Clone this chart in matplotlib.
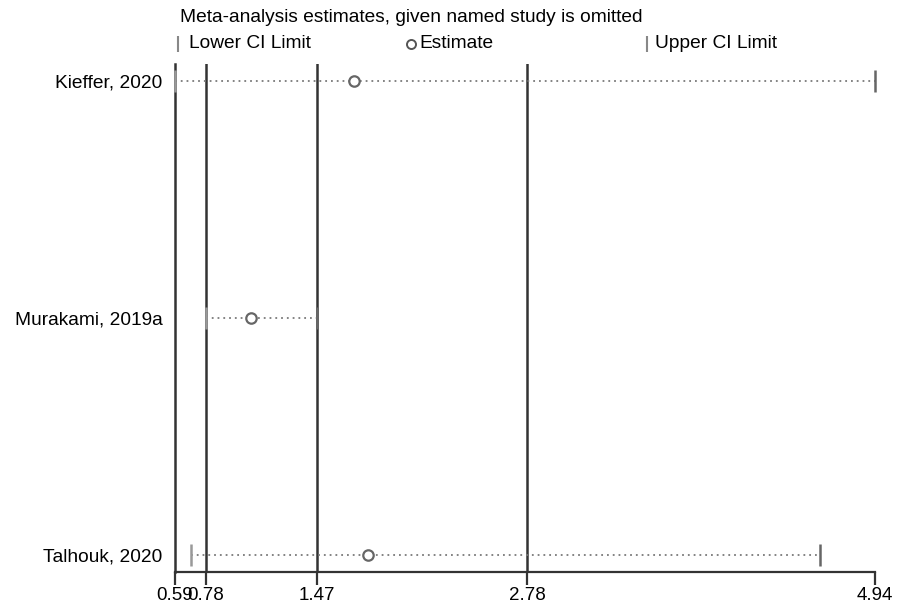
import matplotlib
matplotlib.use("Agg")
import matplotlib.pyplot as plt

studies = ["Kieffer, 2020", "Murakami, 2019a", "Talhouk, 2020"]
lower = [0.59, 0.78, 0.69]
estimate = [1.70, 1.06, 1.79]
upper = [4.94, 1.47, 4.60]
ref_lines = [0.78, 1.47, 2.78]
xticks = [0.59, 0.78, 1.47, 2.78, 4.94]
xmin, xmax = 0.59, 4.94

plt.rcParams['font.family'] = ['Liberation Sans', 'DejaVu Sans']
FS = 13.8

fig = plt.figure(figsize=(9.12, 6.08), dpi=100)
ax = fig.add_axes([175/912, 36/608, 700/912, (572-64)/608])

ypos = list(range(1, len(studies) + 1))
for x in ref_lines:
    ax.axvline(x, color="#333333", lw=1.8, zorder=1)

for y, lo, est, up in zip(ypos, lower, estimate, upper):
    ax.plot([lo, up], [y, y], linestyle=(0, (1, 2.2)), color="#7a7a7a", lw=1.3, zorder=2)
    ax.plot([lo], [y], marker="|", ms=16, mew=1.8, color="#999999", zorder=3, clip_on=False)
    ax.plot([up], [y], marker="|", ms=16, mew=1.8, color="#666666", zorder=3, clip_on=False)
    ax.plot([est], [y], marker="o", ms=7.5, mfc="white", mec="#666666", mew=1.6, zorder=4)

ax.set_xlim(xmin, xmax)
ax.set_ylim(3.07, 0.93)
ax.set_yticks(ypos)
ax.set_yticklabels(studies, fontsize=FS)
ax.tick_params(axis="y", length=0, pad=9)
ax.set_xticks(xticks)
ax.set_xticklabels([f"{v:.2f}" for v in xticks], fontsize=13.5)
ax.tick_params(axis="x", length=9, width=1.6, color="#333333", pad=2)

for s in ["top", "right"]:
    ax.spines[s].set_visible(False)
ax.spines["left"].set_linewidth(1.8)
ax.spines["left"].set_color("#333333")
ax.spines["bottom"].set_linewidth(1.6)
ax.spines["bottom"].set_color("#333333")

fig.text(180/912, 1 - 18/608, "Meta-analysis estimates, given named study is omitted",
         fontsize=FS, va="center", ha="left")
ly = 1 - 44/608
fig.lines.append(plt.Line2D([178/912], [ly], marker="|", ms=12, mew=1.5, color="#888888",
                            transform=fig.transFigure))
fig.text(189/912, ly, "Lower CI Limit", fontsize=FS, va="center", ha="left")
fig.lines.append(plt.Line2D([411/912], [ly], marker="o", ms=6.5, mfc="white", mec="#555555",
                            mew=1.4, transform=fig.transFigure))
fig.text(419/912, ly, "Estimate", fontsize=FS, va="center", ha="left")
fig.lines.append(plt.Line2D([647/912], [ly], marker="|", ms=12, mew=1.5, color="#888888",
                            transform=fig.transFigure))
fig.text(655/912, ly, "Upper CI Limit", fontsize=FS, va="center", ha="left")

fig.savefig("out.png", dpi=100)
